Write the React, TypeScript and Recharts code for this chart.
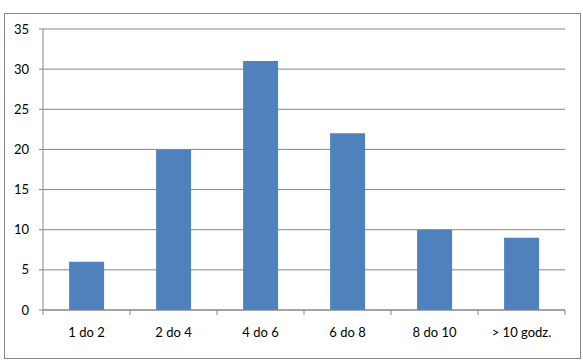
import { BarChart, Bar, XAxis, YAxis, CartesianGrid } from "recharts";

const categories = ["1 do 2", "2 do 4", "4 do 6", "6 do 8", "8 do 10", "> 10 godz."];
const values = [6, 20, 31, 22, 10, 9];
const yTicks = [0, 5, 10, 15, 20, 25, 30, 35];

const data = categories.map((c, i) => ({ name: c, value: values[i] }));

const AXIS = "#868686";
const FONT = "Lato, 'Open Sans', sans-serif";

function CategoryTick(props: any) {
  const { x, y, payload, index, visibleTicksCount } = props;
  const half = payload && payload.offset ? payload.offset : 43.5;
  const last = index === (visibleTicksCount ?? categories.length) - 1;
  return (
    <g>
      <line x1={x - half} y1={y - 8} x2={x - half} y2={y - 3} stroke={AXIS} />
      {last && <line x1={x + half} y1={y - 8} x2={x + half} y2={y - 3} stroke={AXIS} />}
      <text x={x} y={y + 19} textAnchor="middle" fontSize={13} fontFamily={FONT} fill="#000">
        {payload.value}
      </text>
    </g>
  );
}

export default function App() {
  return (
    <div style={{ position: "fixed", left: 0, top: 0, width: 583, height: 363, background: "#fff" }}>
      <div style={{ position: "absolute", left: 0, top: 0, zIndex: 0 }}>
        <BarChart
          width={583}
          height={363}
          data={data}
          margin={{ top: 29, right: 18, left: 0, bottom: 23 }}
          barCategoryGap="30%"
        >
          <CartesianGrid vertical={false} stroke={AXIS} strokeDasharray="" />
          <XAxis
            dataKey="name"
            height={30}
            tickLine={false}
            axisLine={{ stroke: AXIS }}
            tick={<CategoryTick />}
            interval={0}
          />
          <YAxis
            width={43}
            domain={[0, 35]}
            ticks={yTicks}
            interval={0}
            tickSize={4}
            tickMargin={10}
            tickLine={{ stroke: AXIS }}
            axisLine={{ stroke: AXIS }}
            tick={{ fill: "#000", fontSize: 13, fontFamily: FONT }}
          />
          <Bar dataKey="value" fill="#4F81BD" isAnimationActive={false} />
        </BarChart>
      </div>
      <div
        style={{
          position: "absolute",
          left: 4,
          top: 13,
          width: 577,
          height: 346,
          boxSizing: "border-box",
          border: `1px solid ${AXIS}`,
          pointerEvents: "none",
          zIndex: 1,
        }}
      />
    </div>
  );
}
